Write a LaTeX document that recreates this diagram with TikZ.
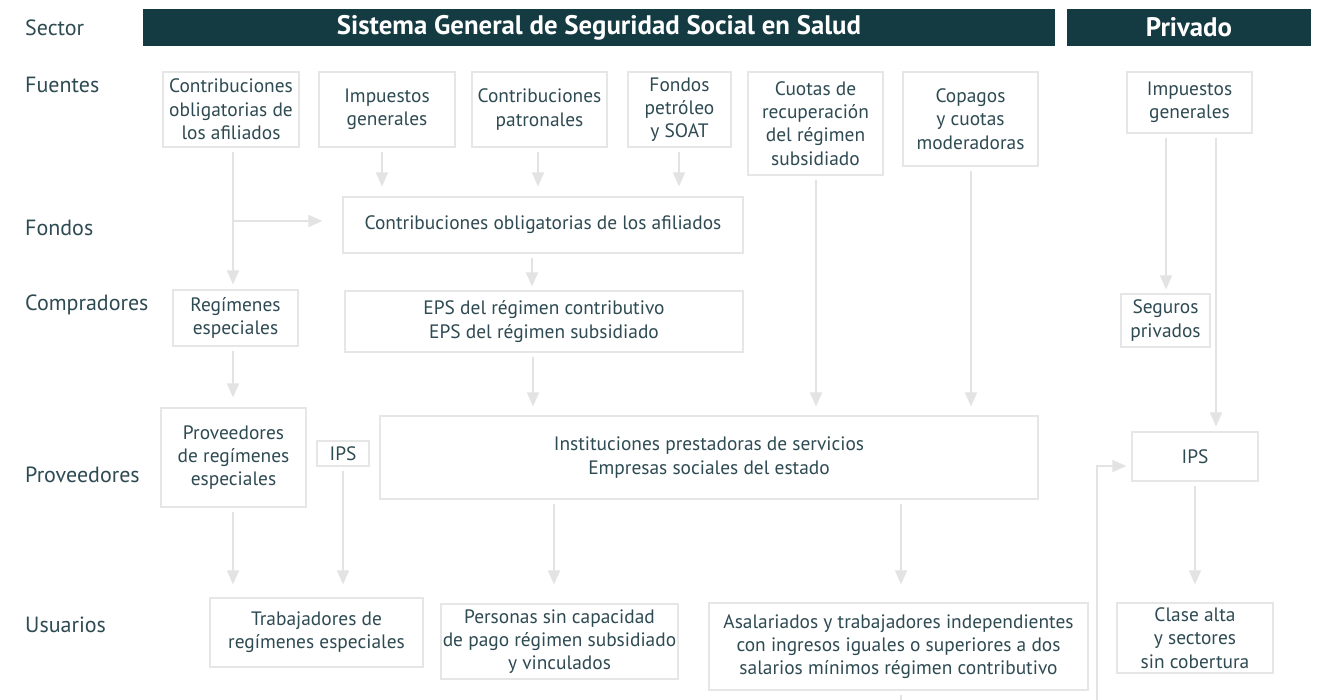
\documentclass[tikz,border=0pt]{standalone}
\usepackage{fontspec}
\setmainfont{PT Sans}
\usetikzlibrary{arrows.meta}
\definecolor{hdr}{HTML}{143A42}
\definecolor{txt}{HTML}{2E4A52}
\definecolor{lnc}{HTML}{E3E3E3}
\definecolor{bdr}{HTML}{E6E6E6}
\begin{document}
\begin{tikzpicture}[x=1pt,y=-1pt,
 box/.style={draw=bdr, line width=1.2pt, fill=white, text=txt, align=center, inner sep=0pt, font=\fontsize{19.4}{23.3}\selectfont},
 sz/.style 2 args={minimum width=#1pt, minimum height=#2pt},
 lab/.style={anchor=west, text=txt, font=\fontsize{22}{26}\selectfont, inner sep=0pt},
 hdrbox/.style={fill=hdr, text=white, font=\fontsize{26.8}{30}\selectfont\bfseries, inner sep=0pt},
 arr/.style={draw=lnc, line width=1.5pt, -{Triangle[length=14pt,width=12pt]}, shorten <=4pt},
]
\useasboundingbox (0,0) rectangle (1322,699);
\clip (0,0) rectangle (1322,699);
\fill[white] (0,0) rectangle (1322,699);

% headers
\node[hdrbox, sz={912}{37}] (hsg) at (599,27.5) {Sistema General de Seguridad Social en Salud};
\node[hdrbox, sz={244}{37}] (hpr) at (1189,27.5) {Privado};

% row labels
\node[lab] (lsec) at (25,28) {Sector};
\node[lab] (lfue) at (25,85) {Fuentes};
\node[lab] (lfon) at (25,228) {Fondos};
\node[lab] (lcom) at (25,305) {Compradores};
\node[lab] (lpro) at (25,475) {Proveedores};
\node[lab] (lusu) at (25,625) {Usuarios};

% fuentes
\node[box, sz={136}{75}] (c1) at (231,109.5) {Contribuciones\\obligatorias de\\los afiliados};
\node[box, sz={136}{75}] (c2) at (387,109.5) {Impuestos\\generales};
\node[box, sz={135}{75}] (c3) at (539.5,109.5) {Contribuciones\\patronales};
\node[box, sz={103}{75}] (c4) at (679.5,109.5) {Fondos\\petróleo\\y SOAT};
\node[box, sz={135}{103}] (c5) at (815.5,123.5) {Cuotas de\\recuperación\\del régimen\\subsidiado};
\node[box, sz={135}{94}] (c6) at (970.5,119) {Copagos\\y cuotas\\moderadoras};
\node[box, sz={125}{61}] (p1) at (1189.5,102.5) {Impuestos\\generales};

% fondos
\node[box, sz={400}{56}] (f) at (543,225) {Contribuciones obligatorias de los afiliados};

% compradores
\node[box, sz={125}{56}] (r) at (235.5,318) {Regímenes\\especiales};
\node[box, sz={398}{61}] (e) at (544,321.5) {EPS del régimen contributivo\\EPS del régimen subsidiado};
\node[box, sz={89}{53}] (s) at (1165.5,320.5) {Seguros\\privados};

% proveedores
\node[box, sz={145}{99}] (pr) at (233.5,457.5) {Proveedores\\de regímenes\\especiales};
\node[box, sz={52}{25}] (ips) at (343,453.5) {IPS};
\node[box, sz={658}{83}] (inst) at (709,457.5) {Instituciones prestadoras de servicios\\Empresas sociales del estado};
\node[box, sz={126}{49}] (ipsp) at (1195,456.5) {IPS};

% usuarios
\node[box, sz={213}{69}] (t) at (316.5,632.5) {Trabajadores de\\regímenes especiales};
\node[box, sz={237}{75}] (pe) at (559.5,641.5) {Personas sin capacidad\\de pago régimen subsidiado\\y vinculados};
\node[box, sz={379}{87}] (a) at (898.5,646.5) {Asalariados y trabajadores independientes\\con ingresos iguales o superiores a dos\\salarios mínimos régimen contributivo};
\node[box, sz={156}{70}] (cl) at (1195,638) {Clase alta\\y sectores\\sin cobertura};

% connectors
\coordinate (br) at (233,221);
\draw[arr, shorten >=5pt] (c1.south -| 233,0) -- (r.north -| 233,0);
\draw[arr, shorten <=0pt, shorten >=20pt] (br) -- (f.west |- br);
\draw[arr, shorten >=10pt] (c2.south -| 382,0) -- (f.north -| 382,0);
\draw[arr, shorten >=10pt] (c3.south -| 538,0) -- (f.north -| 538,0);
\draw[arr, shorten >=10pt] (c4.south -| 679,0) -- (f.north -| 679,0);
\draw[arr, shorten >=4pt] (f.south -| 532,0) -- (e.north -| 532,0);
\draw[arr, shorten >=9pt] (e.south -| 533,0) -- (inst.north -| 533,0);
\draw[arr, shorten >=9pt] (c5.south -| 816,0) -- (inst.north -| 816,0);
\draw[arr, shorten >=9pt] (c6.south -| 971,0) -- (inst.north -| 971,0);
\draw[arr, shorten >=10pt] (r.south -| 233,0) -- (pr.north -| 233,0);
\draw[arr, shorten >=13pt] (pr.south -| 233,0) -- (t.north -| 233,0);
\draw[arr, shorten >=13pt] (ips.south -| 343,0) -- (t.north -| 343,0);
\draw[arr, shorten >=19pt] (inst.south -| 554,0) -- (pe.north -| 554,0);
\draw[arr, shorten >=18pt] (inst.south -| 901,0) -- (a.north -| 901,0);
\draw[arr, shorten >=4pt] (p1.south -| 1166,0) -- (s.north -| 1166,0);
\draw[arr, shorten >=5pt] (p1.south -| 1216,0) -- (ipsp.north -| 1216,0);
\draw[arr, shorten >=18pt] (ipsp.south -| 1195,0) -- (cl.north -| 1195,0);
\coordinate (d1) at (901,730);
\coordinate (d2) at (1097,730);
\coordinate (d3) at (1097,466);
\draw[arr, shorten >=5pt] (a.south -| d1) -- (d1) -- (d2) -- (d3) -- (ipsp.west |- d3);
\end{tikzpicture}
\end{document}
